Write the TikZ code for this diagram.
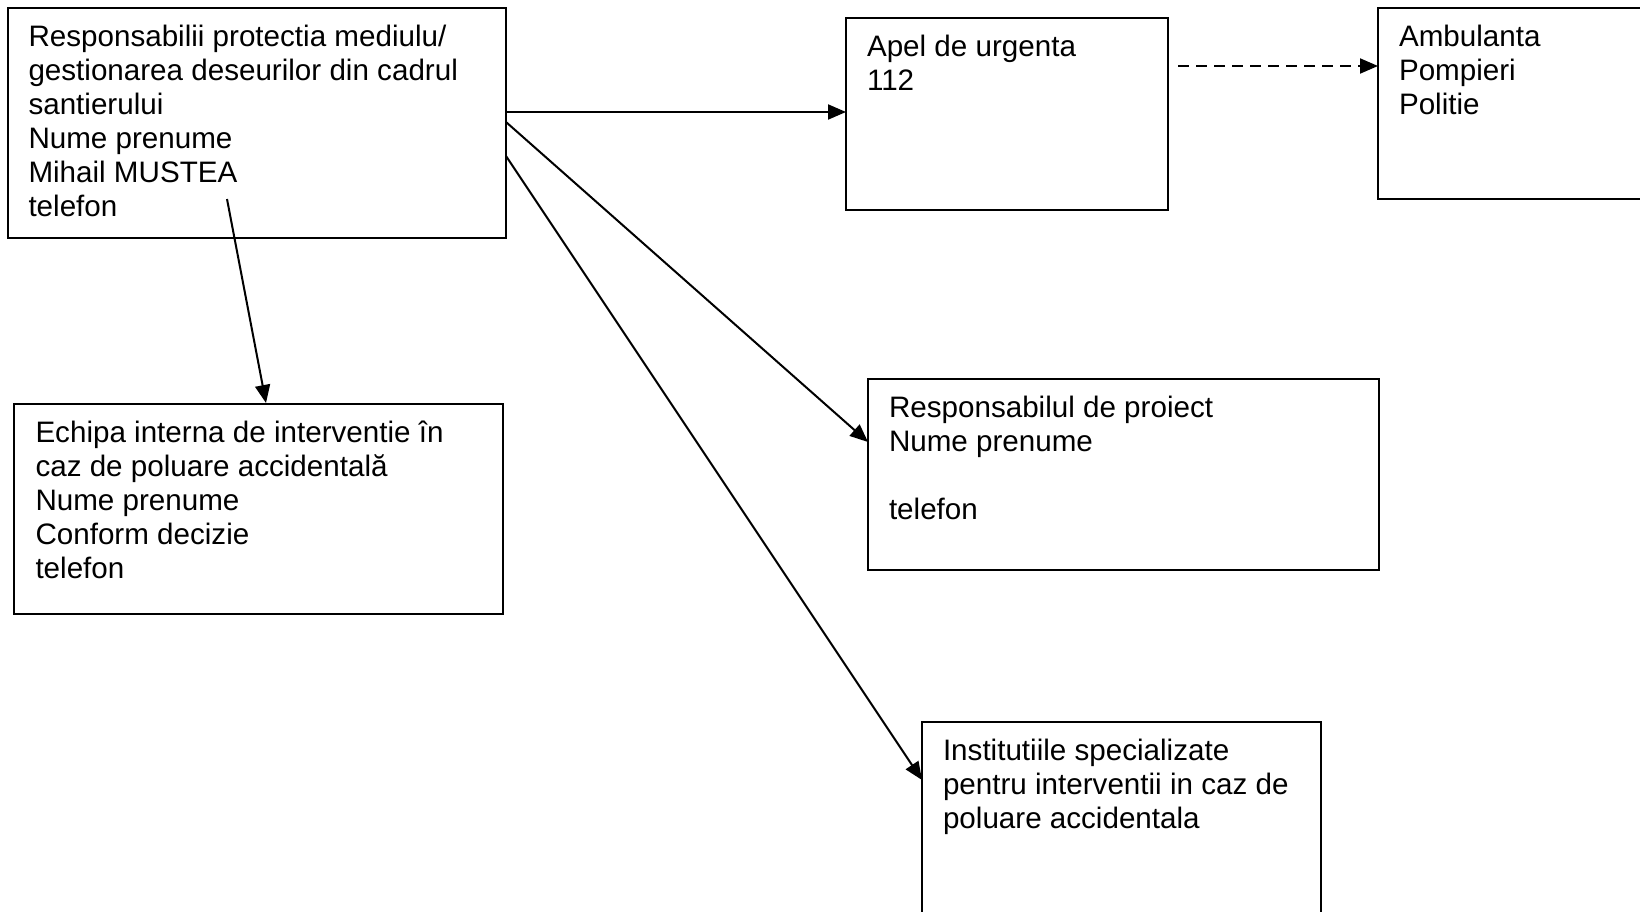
\documentclass[tikz,border=0pt]{standalone}
\usepackage{fontspec}
\setmainfont{Liberation Sans}
\usetikzlibrary{arrows.meta,calc}
\tikzset{
  box/.style={draw=black, line width=2pt, rectangle, anchor=north west, inner sep=0pt, outer sep=0pt},
  txt/.style={anchor=base west, inner sep=0pt, outer sep=0pt, font=\fontsize{29.6pt}{34pt}\selectfont},
  conn/.style={line width=2pt, -{Triangle[length=18pt,width=15pt]}},
  dconn/.style={conn, dash pattern=on 11pt off 7pt},
}
\newcommand{\boxtext}[1]{\parbox[t]{640pt}{\raggedright #1}}
\begin{document}
\begin{tikzpicture}[x=1pt,y=-1pt]
\useasboundingbox (0,0) rectangle (1640,912);
\clip (0,0) rectangle (1640,912);
% boxes
\node[box, minimum width=498pt, minimum height=230pt] (A) at (8,8) {};
\node[box, minimum width=322pt, minimum height=192pt] (B) at (846,18) {};
\node[box, minimum width=300pt, minimum height=191pt] (C) at (1378,8) {};
\node[box, minimum width=489pt, minimum height=210pt] (D) at (14,404) {};
\node[box, minimum width=511pt, minimum height=191pt] (E) at (868,379) {};
\node[box, minimum width=399pt, minimum height=240pt] (F) at (922,722) {};
% texts
\node[txt] (At) at ($(A.north west)+(20.5,38.5)$) {\boxtext{Responsabilii protectia mediulu/\\gestionarea deseurilor din cadrul\\santierului\\Nume prenume\\Mihail MUSTEA\\telefon}};
\node[txt] (Bt) at ($(B.north west)+(21,38.5)$) {\boxtext{Apel de urgenta\\112}};
\node[txt] (Ct) at ($(C.north west)+(21,38.5)$) {\boxtext{Ambulanta\\Pompieri\\Politie}};
\node[txt] (Dt) at ($(D.north west)+(21.5,38.5)$) {\boxtext{Echipa interna de interventie în\\caz de poluare accidentală\\Nume prenume\\Conform decizie\\telefon}};
\node[txt] (Et) at ($(E.north west)+(21,38.5)$) {\boxtext{Responsabilul de proiect\\Nume prenume\\\mbox{}\\telefon}};
\node[txt] (Ft) at ($(F.north west)+(21,38.5)$) {\boxtext{Institutiile specializate\\pentru interventii in caz de\\poluare accidentala}};
% connectors
\coordinate (Astart) at (227,199);
\draw[conn] ($(A.north east)+(0,104)$) -- ($(B.north west)+(0,94)$);
\draw[conn] ($(A.north east)+(0,114)$) -- ($(E.north west)+(0,63)$);
\draw[conn] ($(A.north east)+(0,148)$) -- ($(F.north west)+(0,58)$);
\draw[conn] (Astart) -- ($(D.north west)+(252,-1)$);
\draw[dconn] ($(B.north east)+(10,48)$) -- ($(C.north west)+(0,58)$);
\end{tikzpicture}
\end{document}
